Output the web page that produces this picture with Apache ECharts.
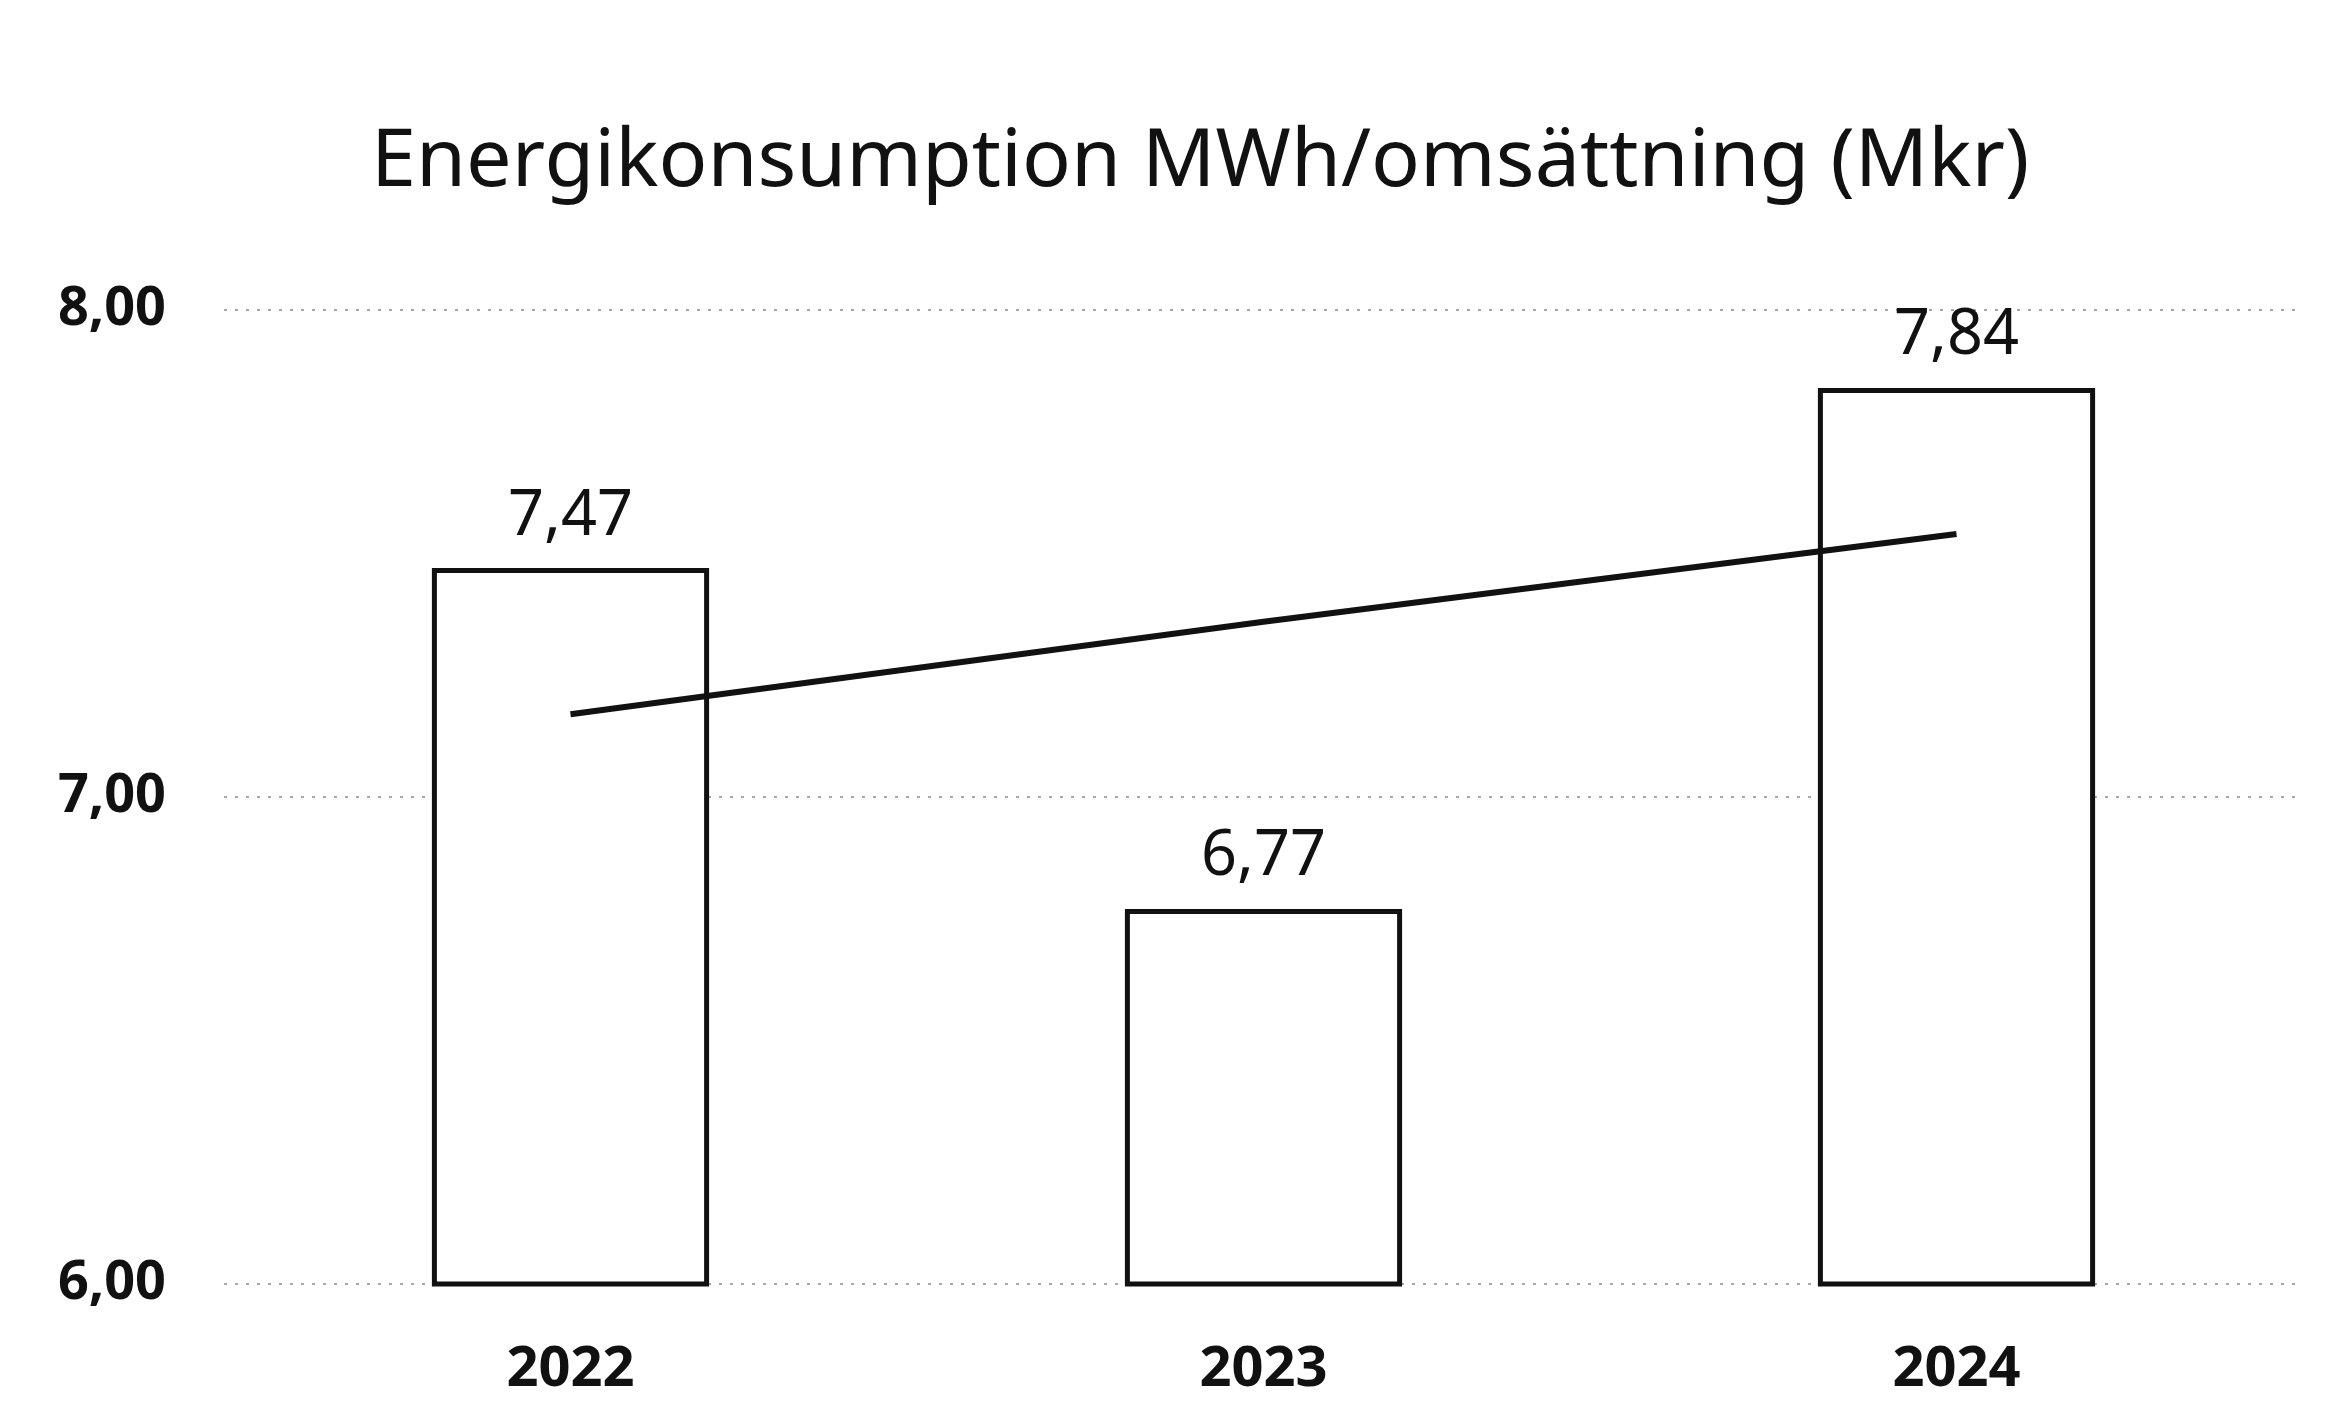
<!DOCTYPE html>
<html>
<head>
<meta charset="utf-8">
<script src="https://cdn.jsdelivr.net/npm/echarts@6/dist/echarts.min.js"></script>
<style>
html,body{margin:0;padding:0;background:#fff;}
#chart{width:2350px;height:1421px;}
</style>
</head>
<body>
<div id="chart"></div>
<script>
const titleText = 'Energikonsumption MWh/omsättning (Mkr)';
const categories = ['2022', '2023', '2024'];
const barValues = [7.47, 6.77, 7.84];
const trendValues = [7.17, 7.36, 7.54];
const yTicks = { min: 6, max: 8, interval: 1 };

const chart = echarts.init(document.getElementById('chart'), null, { renderer: 'canvas' });
const fmt = v => v.toFixed(2).replace('.', ',');
chart.setOption({
  backgroundColor: '#ffffff',
  animation: false,
  title: {
    text: titleText,
    left: 366,
    top: 117,
    textStyle: { fontFamily: 'Noto Sans', fontWeight: 'normal', fontSize: 81, color: '#111' }
  },
  grid: { left: 224, right: 47, top: 310, bottom: 137, containLabel: false },
  xAxis: {
    type: 'category',
    data: categories,
    axisLine: { show: false },
    axisTick: { show: false },
    axisLabel: { fontFamily: 'Noto Sans', fontWeight: 'bold', fontSize: 56, color: '#111', margin: 58 }
  },
  yAxis: {
    type: 'value',
    min: yTicks.min, max: yTicks.max, interval: yTicks.interval,
    axisLine: { show: false },
    axisTick: { show: false },
    splitLine: { show: true, lineStyle: { color: '#a8a8a8', width: 2, type: [3, 8] } },
    axisLabel: { fontFamily: 'Noto Sans', fontWeight: 'bold', fontSize: 54, color: '#111', margin: 58, formatter: fmt }
  },
  series: [
    {
      type: 'bar',
      data: barValues,
      barWidth: '40%',
      itemStyle: { color: '#ffffff', borderColor: '#111', borderWidth: 5 },
      label: {
        show: true, position: 'top', distance: 20,
        fontFamily: 'Noto Sans', fontSize: 63, color: '#111',
        formatter: p => fmt(p.value)
      },
      z: 2
    },
    {
      type: 'line',
      data: trendValues,
      symbol: 'none',
      lineStyle: { color: '#111', width: 6 },
      z: 3
    }
  ]
});
</script>
</body>
</html>
